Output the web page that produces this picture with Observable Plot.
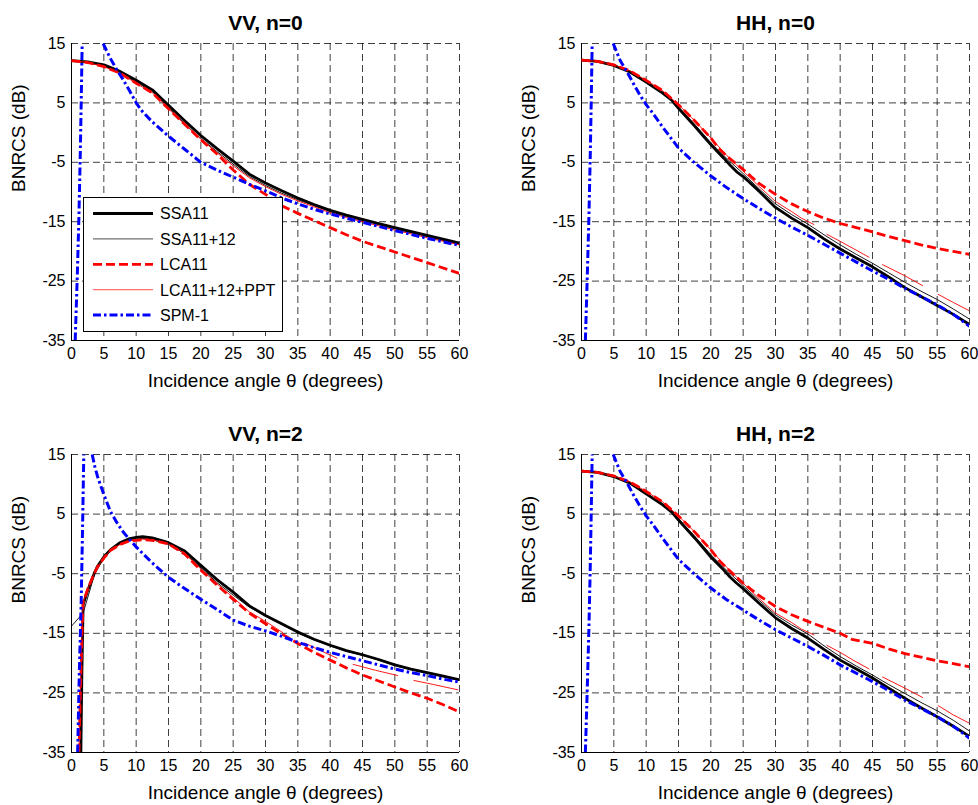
<!DOCTYPE html>
<html>
<head>
<meta charset="utf-8">
<script src="https://cdn.jsdelivr.net/npm/d3@7"></script>
<script src="https://cdn.jsdelivr.net/npm/@observablehq/plot@0.6"></script>
<style>
  html, body { margin: 0; padding: 0; background: #fff; }
  #root { position: relative; width: 978px; height: 805px; font-family: "Liberation Sans", Arial, Helvetica, sans-serif; }
  .panel { position: absolute; }
  #legend { position: absolute; left: 83px; top: 197px; }
</style>
</head>
<body>
<div id="root"></div>
<script>
// ---------- axis definitions ----------
const X_TICKS = [0, 5, 10, 15, 20, 25, 30, 35, 40, 45, 50, 55, 60];
const Y_TICKS = [15, 5, -5, -15, -25, -35];
const X_LABEL = "Incidence angle θ (degrees)";
const Y_LABEL = "BNRCS (dB)";
const TITLES = ["VV, n=0", "HH, n=0", "VV, n=2", "HH, n=2"];
const SERIES_NAMES = ["SSA11", "SSA11+12", "LCA11", "LCA11+12+PPT", "SPM-1"];

// ---------- VV, n=0 ----------
const VV0_SSA11 = [[0,12.1],[2.5,11.9],[5,11.4],[7.5,10.3],[10,8.8],[12.5,7.2],[15,4.6],[17.5,2.0],[20,-0.5],[22.5,-2.7],[25,-4.8],[27.5,-7.0],[30,-8.5],[32.5,-9.8],[35,-11.0],[37.5,-12.1],[40,-13.1],[42.5,-13.9],[45,-14.6],[47.5,-15.3],[50,-16.0],[55,-17.3],[60,-18.6]];
const VV0_SSA1112 = [[0,12.1],[2.5,11.8],[5,11.2],[7.5,10.1],[10,8.5],[12.5,6.9],[15,4.2],[17.5,1.5],[20,-1.0],[22.5,-3.2],[25,-5.3],[27.5,-7.4],[30,-8.9],[32.5,-10.2],[35,-11.3],[37.5,-12.3],[40,-13.3],[42.5,-14.1],[45,-14.8],[47.5,-15.5],[50,-16.2],[55,-17.5],[60,-18.8]];
const VV0_LCA11 = [[0,12.1],[2.5,11.8],[5,11.1],[7.5,10.0],[10,8.3],[12.5,6.7],[15,4.0],[17.5,1.4],[20,-1.2],[22.5,-3.6],[25,-6.3],[27.5,-8.7],[30,-10.4],[32.5,-12.3],[35,-13.6],[37.5,-14.8],[40,-16.0],[42.5,-17.2],[45,-18.3],[47.5,-19.2],[50,-20.1],[55,-21.9],[60,-23.7]];
const VV0_LCAPPT = [[0,12.1],[2.5,11.8],[5,11.1],[7.5,10.0],[10,8.3],[12.5,6.7],[15,4.0],[17.5,1.4],[20,-1.1],[22.5,-3.4],[25,-5.6],[27.5,-7.6],[30,-9.1],[32.5,-10.4],[35,-11.5],[37.5,-12.5],[40,-13.5],[42.5,-14.3],[45,-15.0],[47.5,-15.7],[50,-16.4],[55,-17.7],[60,-18.9]];
const VV0_SPM = [[0.57,-35],[0.9,-24],[1.15,-14],[1.35,-4],[1.5,5],[1.65,15],[1.7,NaN],[4.9,15],[5.5,13.6],[6,12.5],[7,10.6],[8,8.9],[9,7.0],[10,5.0],[11,3.5],[12.5,1.8],[15,-0.6],[17.5,-2.8],[20,-5.0],[22.5,-6.3],[25,-7.5],[27.5,-8.7],[30,-9.8],[32.5,-11.0],[35,-12.0],[37.5,-12.9],[40,-13.7],[42.5,-14.4],[45,-15.1],[47.5,-15.8],[50,-16.5],[55,-17.8],[60,-19.0]];

// ---------- HH, n=0 ----------
const HH0_SSA11 = [[0,12.2],[2.5,12.0],[5,11.3],[7.5,10.2],[10,8.5],[12.5,6.7],[14,5.4],[15,4.1],[17.5,1.1],[19,-0.8],[20,-2.0],[21,-3.2],[22,-4.3],[23,-5.5],[24,-6.6],[25,-7.4],[27.5,-9.9],[30,-12.6],[32.5,-14.4],[35,-16.0],[37.5,-17.9],[40,-19.6],[42.5,-21.1],[45,-22.6],[47.5,-24.3],[50,-26.1],[52.5,-27.6],[55,-29.1],[57.5,-30.6],[60,-32.3]];
const HH0_SSA1112 = [[0,12.2],[2.5,12.0],[5,11.3],[7.5,10.2],[10,8.5],[12.5,6.8],[14,5.5],[15,4.3],[17.5,1.4],[20,-1.7],[22.5,-4.4],[25,-6.9],[27.5,-9.5],[30,-12.0],[32.5,-13.8],[35,-15.4],[37.5,-17.2],[40,-18.9],[42.5,-20.5],[45,-22.0],[47.5,-23.6],[50,-25.2],[52.5,-26.7],[55,-28.1],[57.5,-29.7],[60,-31.4]];
const HH0_LCA11 = [[0,12.2],[2.5,12.0],[5,11.4],[7.5,10.4],[10,8.8],[12.5,7.1],[15,4.7],[17.5,2.0],[20,-0.9],[21.2,-2.6],[22.5,-4.0],[25,-6.2],[27.5,-8.6],[30,-10.4],[32.5,-12.0],[35,-13.3],[37.5,-14.4],[40,-15.3],[42.5,-16.0],[45,-16.7],[47.5,-17.5],[50,-18.2],[52.5,-18.9],[55,-19.5],[57.5,-20.0],[60,-20.5]];
const HH0_LCAPPT = [[0,12.2],[2.5,12.0],[5,11.4],[7.5,10.4],[10,8.8],[12.5,7.1],[15,4.7],[17.5,2.0],[20,-0.9],[22.5,-3.9],[25,-6.5],[27.5,-9.1],[30,-11.6],[32.5,-13.3],[34,-14.4],[36,-15.5],[36.1,NaN],[37.9,-17.1],[40,-18.3],[42,-19.5],[44.5,-21.0],[44.6,NaN],[46.5,-22.2],[50,-24.1],[52.8,-25.8],[52.9,NaN],[55.1,-27.2],[57.5,-28.6],[60,-30.0]];
const HH0_SPM = [[0.6,-35],[0.9,-24],[1.15,-14],[1.35,-4],[1.5,5],[1.65,15],[1.7,NaN],[4.9,15],[5.5,13.4],[6,12.1],[7,10.3],[8,8.3],[9,6.4],[10,4.7],[11,3.3],[12.5,1.0],[15,-2.6],[17.5,-5.1],[20,-7.3],[22.5,-9.3],[25,-11.1],[27.5,-12.8],[30,-14.4],[32.5,-15.9],[35,-17.3],[37.5,-18.8],[40,-20.3],[42.5,-21.8],[45,-23.3],[47.5,-24.7],[50,-26.2],[52.5,-27.6],[55,-29.0],[57.5,-30.6],[60,-32.6]];

// ---------- VV, n=2 ----------
const VV2_SSA11 = [[1.45,-35],[1.6,-22],[1.8,-10.2],[2.5,-7.8],[3.5,-5.0],[4,-3.8],[5,-2.2],[6,-1.0],[7.5,0.2],[9,0.9],[10,1.1],[11,1.2],[12.5,1.0],[15,0.2],[17.5,-1.2],[20,-3.6],[22.5,-6.0],[25,-8.1],[27.5,-10.4],[30,-12.0],[32.5,-13.4],[35,-14.8],[37.5,-16.0],[40,-17.0],[42.5,-17.9],[45,-18.6],[47.5,-19.4],[50,-20.3],[52.5,-21.0],[55,-21.6],[57.5,-22.2],[60,-22.8]];
const VV2_SSA1112 = [[0,-13.8],[1.8,-11.6],[3.6,-5.0],[5,-2.4],[6,-1.2],[7.5,0.0],[9,0.6],[10,0.8],[11,0.9],[12.5,0.7],[15,-0.1],[17.5,-1.6],[20,-4.0],[22.5,-6.5],[25,-8.6],[27.5,-10.6],[30,-12.1],[32.5,-13.5],[35,-14.9],[37.5,-16.1],[40,-17.1],[42.5,-18.0],[45,-18.7],[47.5,-19.5],[50,-20.4],[52.5,-21.1],[55,-21.7],[57.5,-22.3],[60,-22.9]];
const VV2_LCA11 = [[1.15,-35],[1.4,-24],[1.6,-16],[1.8,-9.8],[2.5,-7.6],[3.5,-5.0],[4,-3.9],[5,-2.4],[6,-1.1],[7.5,-0.1],[9,0.5],[10,0.6],[11,0.7],[12.5,0.6],[15,0.0],[17.5,-1.7],[20,-4.4],[22.5,-6.9],[25,-9.3],[27.5,-11.6],[30,-13.4],[32.5,-15.1],[35,-16.7],[37.5,-18.2],[40,-19.5],[42.5,-20.8],[45,-22.0],[47.5,-23.0],[50,-24.0],[52.5,-25.0],[55,-25.9],[57.5,-27.0],[60,-28.2]];
const VV2_LCAPPT = [[1.15,-35],[1.4,-24],[1.6,-16],[1.8,-9.8],[2.5,-7.6],[3.5,-5.0],[4,-3.9],[5,-2.4],[6,-1.1],[7.5,-0.1],[9,0.5],[10,0.7],[11,0.8],[12.5,0.7],[15,0.0],[17.5,-1.6],[20,-4.2],[22.5,-6.7],[25,-9.0],[27.5,-11.4],[30,-13.0],[32.7,-14.9],[32.8,NaN],[36,-16.6],[38.5,-17.9],[41.1,-19.2],[41.2,NaN],[43.5,-20.2],[47,-21.2],[50.5,-22.1],[50.6,NaN],[52.9,-22.9],[56,-23.6],[59.8,-24.5]];
const VV2_SPM = [[0.95,-35],[1.2,-22],[1.5,-9.6],[1.7,2],[1.9,15],[2.0,NaN],[3.2,15],[3.6,13.0],[4,11.4],[4.5,9.8],[5,8.3],[6,5.5],[7,3.6],[8,2.0],[9,0.7],[10,-0.5],[11,-1.6],[12.5,-3.2],[15,-5.6],[17.5,-7.5],[20,-9.3],[22.5,-11.0],[25,-12.8],[27.5,-13.8],[30,-14.6],[32.5,-15.5],[35,-16.5],[37.5,-17.4],[40,-18.2],[42.5,-18.9],[45,-19.6],[47.5,-20.3],[50,-21.0],[52.5,-21.6],[55,-22.1],[57.5,-22.7],[60,-23.2]];

// ---------- HH, n=2 ----------
const HH2_SSA11 = [[0,12.2],[2.5,12.0],[5,11.3],[7.5,10.2],[10,8.4],[12.5,6.6],[14,5.3],[15,4.0],[17.5,1.0],[19,-0.9],[20,-2.2],[21,-3.3],[22,-4.4],[23,-5.6],[24,-6.6],[25,-7.5],[27.5,-10.0],[30,-12.4],[32.5,-14.2],[35,-15.8],[37.5,-17.7],[40,-19.5],[42.5,-21.0],[45,-22.5],[47.5,-24.2],[50,-25.9],[52.5,-27.5],[55,-29.0],[57.5,-30.6],[60,-32.3]];
const HH2_SSA1112 = [[0,12.2],[2.5,12.0],[5,11.3],[7.5,10.2],[10,8.5],[12.5,6.8],[14,5.5],[15,4.2],[17.5,1.3],[20,-1.8],[22.5,-4.5],[25,-7.0],[27.5,-9.5],[30,-11.9],[32.5,-13.6],[35,-15.1],[37.5,-17.1],[40,-18.9],[42.5,-20.5],[45,-22.0],[47.5,-23.6],[50,-25.1],[52.5,-26.6],[55,-28.0],[57.5,-29.6],[60,-31.4]];
const HH2_LCA11 = [[0,12.2],[2.5,12.0],[5,11.4],[7.5,10.4],[10,8.8],[12.5,7.1],[15,4.7],[17.5,2.0],[20,-1.0],[21.3,-2.8],[22.5,-4.1],[25,-6.6],[27.5,-8.7],[30,-10.5],[32.5,-11.9],[35,-13.0],[37.5,-14.0],[40,-15.0],[41.8,-16.0],[45,-16.7],[47.5,-17.6],[50,-18.4],[52.5,-19.0],[55,-19.6],[57.5,-20.1],[60,-20.6]];
const HH2_LCAPPT = [[0,12.2],[2.5,12.0],[5,11.4],[7.5,10.4],[10,8.8],[12.5,7.1],[15,4.7],[17.5,2.0],[20,-1.0],[22.5,-4.0],[25,-6.6],[27.5,-9.2],[30,-11.6],[32.5,-13.2],[34,-14.3],[36,-15.3],[36.1,NaN],[37.9,-17.0],[40,-18.2],[42,-19.5],[44.5,-21.0],[44.6,NaN],[46.5,-22.3],[50,-24.2],[52.8,-25.8],[52.9,NaN],[55.1,-27.1],[57.5,-28.7],[60,-30.1]];
const HH2_SPM = [[0.6,-35],[0.9,-24],[1.15,-14],[1.35,-4],[1.5,5],[1.65,15],[1.7,NaN],[4.9,15],[5.5,13.4],[6,12.1],[7,10.3],[8,8.3],[9,6.4],[10,4.7],[11,3.3],[12.5,1.0],[15,-2.6],[17.5,-5.1],[20,-7.4],[22.5,-9.4],[25,-11.1],[27.5,-12.8],[30,-14.4],[32.5,-15.8],[35,-17.2],[37.5,-18.7],[40,-20.3],[42.5,-21.7],[45,-23.1],[47.5,-24.6],[50,-26.2],[52.5,-27.6],[55,-29.0],[57.5,-30.6],[60,-32.6]];

// ---------- styles ----------
const STYLES = [
  {stroke: "#000000", strokeWidth: 2.8},
  {stroke: "#000000", strokeWidth: 0.9},
  {stroke: "#ff0000", strokeWidth: 2.8, strokeDasharray: "9,4"},
  {stroke: "#ff0000", strokeWidth: 0.9},
  {stroke: "#0000ff", strokeWidth: 3, strokeDasharray: "8,3,2.5,3"}
];
const LEGEND_COLORS = ["#000000", "#707070", "#ff0000", "#ff7070", "#0000ff"];

const PANELS = [
  {title: TITLES[0], series: [VV0_SSA11, VV0_SSA1112, VV0_LCA11, VV0_LCAPPT, VV0_SPM], left: 0, top: 0, h: 400, mt: 43, mb: 60, ml: 71, mr: 30},
  {title: TITLES[1], series: [HH0_SSA11, HH0_SSA1112, HH0_LCA11, HH0_LCAPPT, HH0_SPM], left: 489, top: 0, h: 400, mt: 43, mb: 60, ml: 92, mr: 9},
  {title: TITLES[2], series: [VV2_SSA11, VV2_SSA1112, VV2_LCA11, VV2_LCAPPT, VV2_SPM], left: 0, top: 400, h: 405, mt: 54, mb: 53, ml: 71, mr: 30},
  {title: TITLES[3], series: [HH2_SSA11, HH2_SSA1112, HH2_LCA11, HH2_LCAPPT, HH2_SPM], left: 489, top: 400, h: 405, mt: 54, mb: 53, ml: 92, mr: 9}
];

const FONT = '"Liberation Sans", Arial, Helvetica, sans-serif';
const root = document.getElementById("root");

function makePanel(p) {
  const gridStyle = {stroke: "#000", strokeOpacity: 0.75, strokeWidth: 1, strokeDasharray: "7,4"};
  const lines = p.series.map((s, i) => Plot.line(s, {
    x: d => d[0], y: d => d[1],
    ...STYLES[i],
    strokeLinecap: "butt", strokeLinejoin: "round",
    clip: true
  }));
  const chart = Plot.plot({
    width: 489, height: p.h,
    marginTop: p.mt, marginBottom: p.mb, marginLeft: p.ml, marginRight: p.mr,
    x: {domain: [0, 60]},
    y: {domain: [-35, 15]},
    style: {fontFamily: FONT, fontSize: "16px", color: "#000", background: "transparent", overflow: "visible"},
    marks: [
      Plot.ruleX(X_TICKS, gridStyle),
      Plot.ruleY(Y_TICKS, gridStyle),
      Plot.ruleX([0], {stroke: "#000", strokeWidth: 1}),
      Plot.ruleY([-35], {stroke: "#000", strokeWidth: 1}),
      Plot.axisX({ticks: X_TICKS, tickSize: 0, tickPadding: 7, tickFormat: d => String(d), label: null}),
      Plot.axisY({ticks: Y_TICKS, tickSize: 0, tickPadding: 6, tickFormat: d => String(d), label: null}),
      ...lines,
      Plot.text([p.title], {text: d => d, frameAnchor: "top", dy: -14, lineAnchor: "bottom", fontSize: 21, fontWeight: "bold"}),
      Plot.text([X_LABEL], {text: d => d, frameAnchor: "bottom", dy: 46, lineAnchor: "bottom", fontSize: 19}),
      Plot.text([Y_LABEL], {text: d => d, frameAnchor: "left", dx: -53, rotate: -90, fontSize: 19})
    ]
  });
  const wrap = document.createElement("div");
  wrap.className = "panel";
  wrap.style.left = p.left + "px";
  wrap.style.top = p.top + "px";
  wrap.appendChild(chart);
  root.appendChild(wrap);
}
PANELS.forEach(makePanel);

// ---------- legend (top-left panel) ----------
const lw = 200, lh = 135;
const legend = d3.create("svg").attr("id", "legend").attr("width", lw).attr("height", lh)
  .style("position", "absolute").style("left", "83px").style("top", "197px");
legend.append("rect").attr("x", 0.5).attr("y", 0.5).attr("width", lw - 1).attr("height", lh - 1)
  .attr("fill", "#fff").attr("stroke", "#000").attr("stroke-width", 1);
SERIES_NAMES.forEach((name, i) => {
  const cy = 16.5 + i * 25.4;
  const st = STYLES[i];
  legend.append("line").attr("x1", 10).attr("x2", 70).attr("y1", cy).attr("y2", cy)
    .attr("stroke", LEGEND_COLORS[i]).attr("stroke-width", st.strokeWidth < 1.5 ? 1.2 : st.strokeWidth)
    .attr("stroke-dasharray", st.strokeDasharray || null);
  legend.append("text").attr("x", 77).attr("y", cy + 5.8).text(name)
    .attr("font-family", FONT).attr("font-size", 16).attr("fill", "#000");
});
root.appendChild(legend.node());
</script>
</body>
</html>
